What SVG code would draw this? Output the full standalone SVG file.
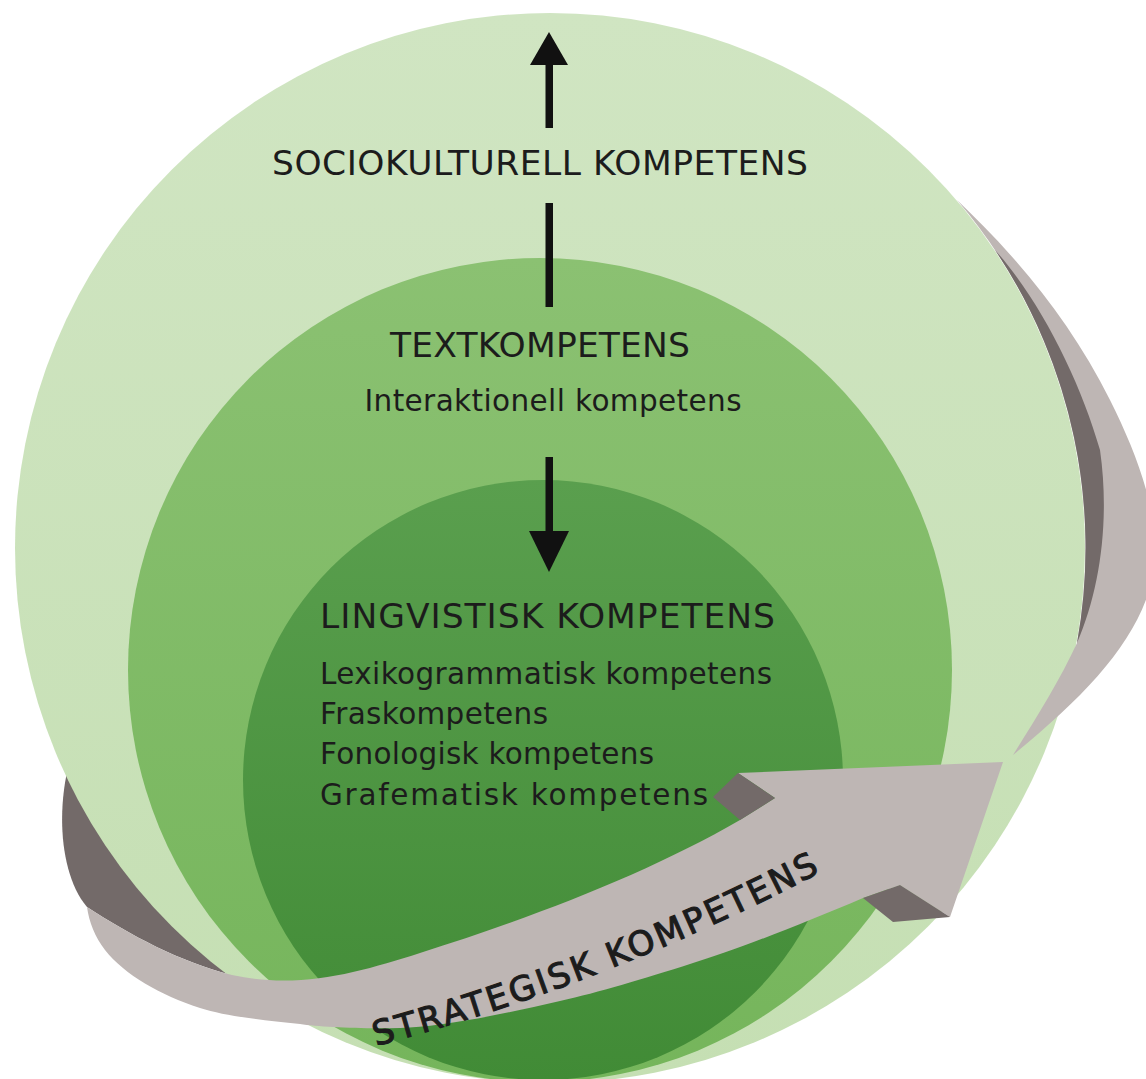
<svg xmlns="http://www.w3.org/2000/svg" width="1146" height="1079" viewBox="0 0 1146 1079">
  <defs>
    <linearGradient id="gOuter" x1="0" y1="0" x2="0" y2="1">
      <stop offset="0" stop-color="#D0E5C2"/>
      <stop offset="1" stop-color="#C5DFB3"/>
    </linearGradient>
    <linearGradient id="gMid" x1="0" y1="0" x2="0" y2="1">
      <stop offset="0" stop-color="#8BC172"/>
      <stop offset="1" stop-color="#75B55B"/>
    </linearGradient>
    <linearGradient id="gInner" x1="0" y1="0" x2="0" y2="1">
      <stop offset="0" stop-color="#5A9F4E"/>
      <stop offset="1" stop-color="#418B36"/>
    </linearGradient>
    <path id="strategiskPath" d="M376,1046 Q616,982 840,862"/>
    <style>
      .lbl { font-family: "DejaVu Sans", Verdana, sans-serif; fill: #1C1C1C; }
      .head { font-size: 34.5px; }
      .sub { font-size: 29.5px; }
      .ribbon-lbl { font-size: 34px; stroke: #1C1C1C; stroke-width: 1.1px; }
      .band { fill: #BEB6B4; }
      .shade { fill: #736A69; }
      .arrow { fill: #111111; }
    </style>
  </defs>

  <rect width="1146" height="1079" fill="#FFFFFF"/>

  <!-- back side of the ribbon, left, tucked behind the outer circle -->
  <path class="shade" d="M70,760 C56,810 60,875 87,907 C130,935 180,962 232,975 L320,900 L200,760 Z"/>

  <!-- outer circle -->
  <g id="sociokulturell">
    <circle cx="550" cy="548" r="535" fill="url(#gOuter)"/>
    <text class="lbl head" x="540" y="175" text-anchor="middle" textLength="536">SOCIOKULTURELL KOMPETENS</text>
  </g>

  <!-- middle circle -->
  <g id="textkompetens">
    <circle cx="540" cy="670" r="412" fill="url(#gMid)"/>
    <text class="lbl head" x="540" y="357" text-anchor="middle" textLength="300">TEXTKOMPETENS</text>
    <text class="lbl sub" x="553" y="411" text-anchor="middle" textLength="377">Interaktionell kompetens</text>
  </g>

  <!-- inner circle -->
  <g id="lingvistisk">
    <circle cx="543" cy="780" r="300" fill="url(#gInner)"/>
    <text class="lbl head" x="320" y="628" textLength="455">LINGVISTISK KOMPETENS</text>
    <text class="lbl sub" x="320" y="684" textLength="452">Lexikogrammatisk kompetens</text>
    <text class="lbl sub" x="320" y="724" textLength="228">Fraskompetens</text>
    <text class="lbl sub" x="320" y="764" textLength="334">Fonologisk kompetens</text>
    <text class="lbl sub" x="320" y="805" textLength="388">Grafematisk kompetens</text>
  </g>

  <!-- ribbon: rear loop on the right -->
  <g id="strategisk">
    <path class="band" d="M957,200 C1015,255 1070,320 1110,400 C1145,470 1168,540 1147,597 C1127,652 1080,700 1013,755 C1035,720 1060,680 1077,643 A535,535 0 0 0 957,200 Z"/>
    <path class="shade" d="M995,250 C1040,300 1080,380 1100,450 C1110,520 1100,590 1077,643 A535,535 0 0 0 995,250 Z"/>

    <!-- ribbon: front band with arrowhead -->
    <path class="band" d="M87,907 C130,935 180,962 232,975 C300,990 360,972 420,953 C540,915 650,872 740,820 L775,798 L738,773 L1003,762 L950,917 L900,885 L863,898 C800,925 730,952 693,963 C640,980 600,992 560,1001 C500,1015 440,1027 400,1028 C360,1029 320,1027 300,1024 C260,1020 225,1016 200,1008 C160,995 125,975 105,950 C95,937 89,922 87,907 Z"/>
    <path class="shade" d="M713,797 L738,773 L775,798 L740,820 Z"/>
    <path class="shade" d="M863,898 L900,885 L950,917 L893,922 Z"/>
    <text class="lbl ribbon-lbl" textLength="478"><textPath href="#strategiskPath">STRATEGISK KOMPETENS</textPath></text>
  </g>

  <!-- arrows between the levels -->
  <g id="connectors">
    <polygon class="arrow" points="549,32 530,65 568,65"/>
    <rect class="arrow" x="545.5" y="62" width="7.5" height="66"/>
    <rect class="arrow" x="545.5" y="203" width="7.5" height="104"/>
    <rect class="arrow" x="545.5" y="457" width="7.5" height="78"/>
    <polygon class="arrow" points="529,531 569,531 549,572"/>
  </g>
</svg>
